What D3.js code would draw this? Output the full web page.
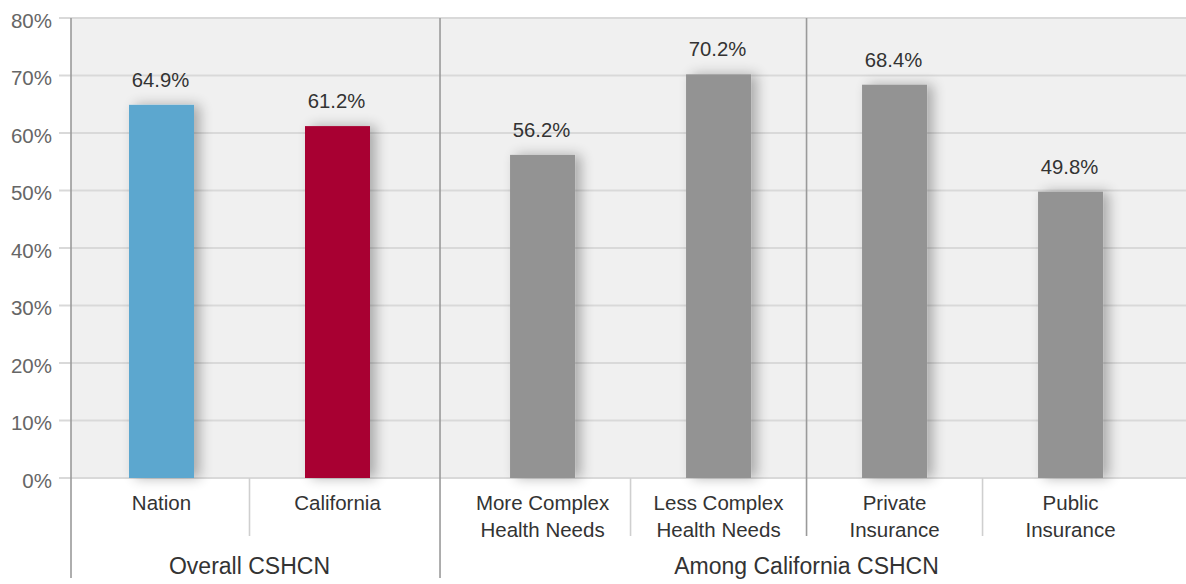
<!DOCTYPE html>
<html>
<head>
<meta charset="utf-8">
<script src="https://cdn.jsdelivr.net/npm/d3@7"></script>
<style>
  html, body { margin: 0; padding: 0; background: #ffffff; }
  svg { display: block; font-family: "Liberation Sans", Arial, Helvetica, sans-serif; }
</style>
</head>
<body>
<svg id="chart" width="1186" height="584"></svg>
<script>
// Share of CSHCN, by group
const categories = [
  ["Nation"],
  ["California"],
  ["More Complex", "Health Needs"],
  ["Less Complex", "Health Needs"],
  ["Private", "Insurance"],
  ["Public", "Insurance"]
];
const values = [64.9, 61.2, 56.2, 70.2, 68.4, 49.8];
const barColors = ["#5ba7cf", "#a80532", "#939393", "#939393", "#939393", "#939393"];
// top-level group of each category, and its sub-group
const topGroups = ["Overall CSHCN", "Among California CSHCN"];
const topGroupOf = [0, 0, 1, 1, 1, 1];
const subGroupOf = [0, 0, 1, 1, 2, 2];
const yTicks = [0, 10, 20, 30, 40, 50, 60, 70, 80];

const W = 1186, H = 584;
const plot = { left: 71, right: 1186, top: 18, bottom: 478 };

const svg = d3.select("#chart");

// soft drop shadow under the bars
const defs = svg.append("defs");
const f = defs.append("filter").attr("id", "shadow")
  .attr("x", "-40%").attr("y", "-10%").attr("width", "200%").attr("height", "130%");
f.append("feGaussianBlur").attr("in", "SourceAlpha").attr("stdDeviation", 6.5).attr("result", "b");
f.append("feOffset").attr("in", "b").attr("dx", 6).attr("dy", 0).attr("result", "o");
f.append("feComponentTransfer").attr("in", "o").attr("result", "s")
  .append("feFuncA").attr("type", "linear").attr("slope", 0.3);
const fm = f.append("feMerge");
fm.append("feMergeNode").attr("in", "s");
fm.append("feMergeNode").attr("in", "SourceGraphic");

// y scale
const y = d3.scaleLinear().domain([0, 80]).range([plot.bottom, plot.top]);

// x: one slot per category, with an extra gap between the two top-level groups
const groupGap = 0.165;
const slot = categories.map((c, i) => i + topGroupOf[i] * groupGap);
const x = d3.scaleLinear().domain([0, 1]).range([161.5, 337.5]);
const barW = 65;

// plot background
svg.append("rect")
  .attr("x", plot.left).attr("y", plot.top)
  .attr("width", plot.right - plot.left).attr("height", plot.bottom - plot.top)
  .attr("fill", "#f0f0f0");

// grid lines (with outer ticks)
svg.append("g").selectAll("line").data(yTicks).join("line")
  .attr("x1", plot.left - 12).attr("x2", plot.right)
  .attr("y1", d => y(d)).attr("y2", d => y(d))
  .attr("stroke", "#d9d9d9").attr("stroke-width", 2);

// y tick labels
svg.append("g").selectAll("text").data(yTicks).join("text")
  .attr("x", 52).attr("y", d => y(d) + 9.5)
  .attr("text-anchor", "end")
  .attr("font-size", 20.5).attr("fill", "#666666")
  .text(d => d + "%");

// separators between neighbouring categories
const seps = [];
for (let i = 0; i < categories.length - 1; i++) {
  const xm = (x(slot[i]) + x(slot[i + 1])) / 2;
  if (topGroupOf[i] !== topGroupOf[i + 1]) {
    seps.push({ x: xm, y1: plot.top, y2: 578, c: "#9a9a9a", w: 1.6 });
  } else if (subGroupOf[i] !== subGroupOf[i + 1]) {
    seps.push({ x: xm, y1: plot.top, y2: 536, c: "#9a9a9a", w: 1.6 });
  } else {
    seps.push({ x: xm, y1: plot.bottom, y2: 536, c: "#cfcfcf", w: 1.6 });
  }
}
svg.append("g").selectAll("line").data(seps).join("line")
  .attr("x1", d => d.x).attr("x2", d => d.x)
  .attr("y1", d => d.y1).attr("y2", d => d.y2)
  .attr("stroke", d => d.c).attr("stroke-width", d => d.w);

// y axis line
svg.append("line")
  .attr("x1", plot.left).attr("x2", plot.left)
  .attr("y1", plot.top).attr("y2", 578)
  .attr("stroke", "#9a9a9a").attr("stroke-width", 1.6);

// bars
svg.append("g").selectAll("rect").data(values).join("rect")
  .attr("x", (d, i) => x(slot[i]) - barW / 2)
  .attr("y", d => y(d))
  .attr("width", barW)
  .attr("height", d => y(0) - y(d))
  .attr("fill", (d, i) => barColors[i])
  .attr("filter", "url(#shadow)");

// value labels
svg.append("g").selectAll("text").data(values).join("text")
  .attr("x", (d, i) => x(slot[i]) - 1)
  .attr("y", d => y(d) - 18)
  .attr("text-anchor", "middle")
  .attr("font-size", 20.3).attr("fill", "#333333")
  .text(d => d.toFixed(1) + "%");

// category labels
const catG = svg.append("g").selectAll("text").data(categories).join("text")
  .attr("text-anchor", "middle")
  .attr("font-size", 20.5).attr("fill", "#333333");
catG.selectAll("tspan").data((d, i) => d.map(t => ({ t, i }))).join("tspan")
  .attr("x", d => x(slot[d.i]))
  .attr("y", (d, j) => 510 + j * 27)
  .text(d => d.t);

// top-level group labels, centred over their categories
svg.append("g").selectAll("text").data(topGroups).join("text")
  .attr("x", (g, gi) => d3.mean(slot.filter((s, i) => topGroupOf[i] === gi), s => x(s)))
  .attr("y", 574)
  .attr("text-anchor", "middle")
  .attr("font-size", 23).attr("fill", "#333333")
  .text(d => d);
</script>
</body>
</html>
